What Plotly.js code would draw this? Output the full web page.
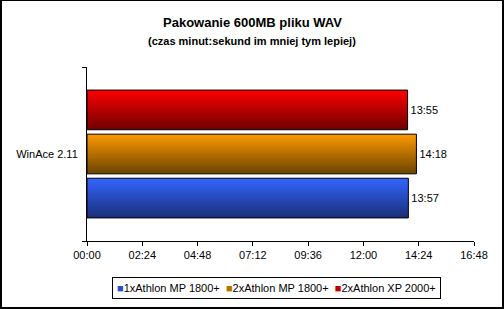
<!DOCTYPE html>
<html>
<head>
<meta charset="utf-8">
<script src="https://cdn.plot.ly/plotly-3.0.1.min.js"></script>
<style>
html,body{margin:0;padding:0;background:#fff;}
#wrap{position:relative;width:504px;height:309px;}
#chart{width:504px;height:309px;}
#frame{position:absolute;left:0;top:0;width:504px;height:309px;box-sizing:border-box;border:2px solid #000;border-top-width:1px;pointer-events:none;}
</style>
</head>
<body>
<div id="wrap"><div id="chart"></div><div id="frame"></div></div>
<script>
// ---- data ----
const categories = ["WinAce 2.11"];
const seriesNames = ["1xAthlon MP 1800+", "2xAthlon MP 1800+", "2xAthlon XP 2000+"];
const seriesTimes = ["13:57", "14:18", "13:55"];
const seriesColors = ["#2a4fc4", "#b87000", "#c00000"];
const gradTop = ["#3366ff", "#ff9900", "#ff0000"];
const gradBottom = ["#1a2e78", "#6a4400", "#6e0000"];
const tickLabels = ["00:00", "02:24", "04:48", "07:12", "09:36", "12:00", "14:24", "16:48"];

function toSec(s){ const p = s.split(":"); return (+p[0])*60 + (+p[1]); }
const tickVals = tickLabels.map(toSec);

const traces = seriesNames.map((n, i) => ({
  type: "bar",
  orientation: "h",
  name: n,
  y: categories,
  x: [toSec(seriesTimes[i])],
  text: [seriesTimes[i]],
  textposition: "outside",
  textfont: {family: "Liberation Sans, Arial", size: 11, color: "#000"},
  cliponaxis: false,
  marker: {color: seriesColors[i], line: {color: "#000", width: 1}},
  hoverinfo: "none"
}));

const legendText = seriesNames.map((n, i) =>
  `<span style="color:${seriesColors[i]}">■</span>${n}`).join("  ");

const layout = {
  width: 504, height: 309,
  margin: {l: 87, r: 30, t: 67, b: 68},
  paper_bgcolor: "#fff", plot_bgcolor: "#fff",
  font: {family: "Liberation Sans, Arial", size: 11, color: "#000"},
  showlegend: false,
  barmode: "group",
  bargap: 0.24,
  bargroupgap: 0.1,
  xaxis: {
    range: [0, tickVals[tickVals.length - 1]],
    tickvals: tickVals, ticktext: tickLabels,
    ticks: "outside", ticklen: 4, tickcolor: "#000",
    showline: true, linecolor: "#000", linewidth: 1,
    showgrid: false, zeroline: false,
    tickfont: {size: 11, color: "#000"}
  },
  yaxis: {
    type: "category",
    ticks: "outside", tickson: "boundaries", ticklen: 4, tickcolor: "#000",
    ticklabelstandoff: 6,
    showline: true, linecolor: "#000", linewidth: 1,
    showgrid: false, zeroline: false,
    tickfont: {size: 11, color: "#000"}
  },
  annotations: [
    {text: "<b>Pakowanie 600MB pliku WAV</b>", xref: "paper", yref: "paper",
     x: 0.4264, y: 1.2529, xanchor: "center", yanchor: "middle", showarrow: false,
     font: {size: 13, color: "#000"}},
    {text: "<b>(czas minut:sekund im mniej tym lepiej)</b>", xref: "paper", yref: "paper",
     x: 0.4264, y: 1.149, xanchor: "center", yanchor: "middle", showarrow: false,
     font: {size: 11, color: "#000"}},
    {text: legendText, xref: "paper", yref: "paper",
     x: 0.4897, y: -0.270, xanchor: "center", yanchor: "middle", showarrow: false,
     bordercolor: "#000", borderwidth: 1, borderpad: 4, bgcolor: "#fff",
     font: {size: 11, color: "#000"}}
  ]
};

Plotly.newPlot("chart", traces, layout, {staticPlot: true, displayModeBar: false}).then(gd => {
  // vertical gradient fill on the bars Plotly drew
  const svg = gd.querySelector("svg.main-svg");
  const NS = "http://www.w3.org/2000/svg";
  let defs = svg.querySelector("defs");
  if (!defs) { defs = document.createElementNS(NS, "defs"); svg.insertBefore(defs, svg.firstChild); }
  seriesNames.forEach((n, i) => {
    const g = document.createElementNS(NS, "linearGradient");
    g.setAttribute("id", "bargrad" + i);
    g.setAttribute("x1", "0"); g.setAttribute("y1", "0");
    g.setAttribute("x2", "0"); g.setAttribute("y2", "1");
    [[0, gradTop[i]], [1, gradBottom[i]]].forEach(([o, c]) => {
      const s = document.createElementNS(NS, "stop");
      s.setAttribute("offset", o); s.setAttribute("stop-color", c);
      g.appendChild(s);
    });
    defs.appendChild(g);
  });
  gd.querySelectorAll(".barlayer .trace").forEach((tr, i) => {
    tr.querySelectorAll(".point path").forEach(p => { p.style.fill = "url(#bargrad" + i + ")"; });
  });
});
</script>
</body>
</html>
